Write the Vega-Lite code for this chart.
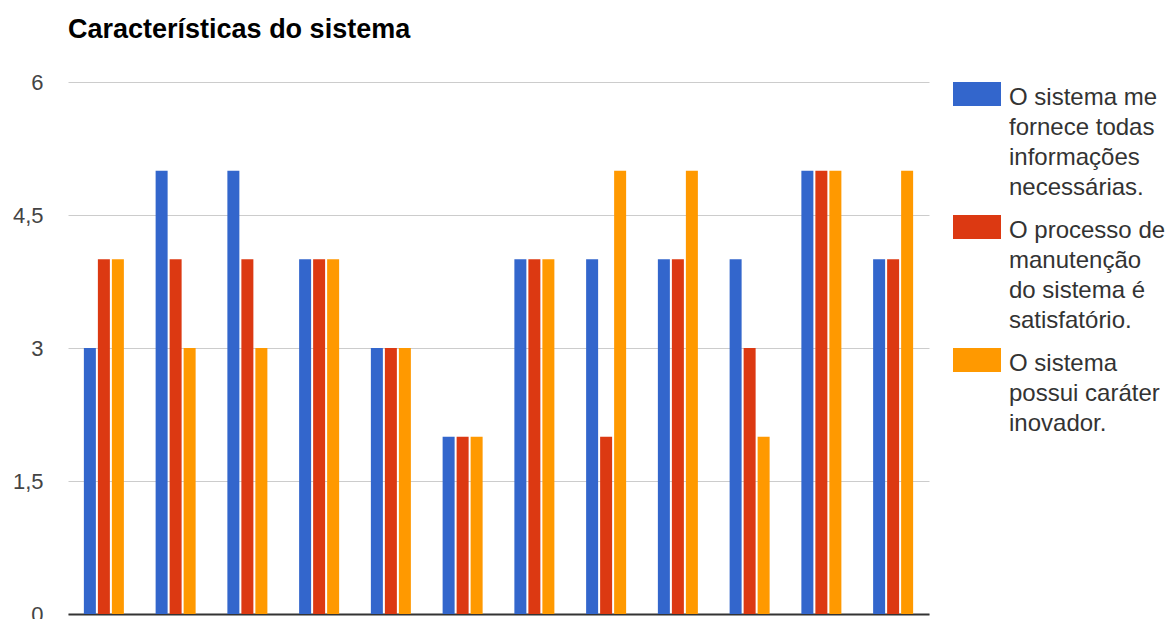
{
  "$schema": "https://vega.github.io/schema/vega-lite/v6.json",
  "width": 861,
  "height": 532,
  "autosize": {"type": "none"},
  "padding": {"left": 68, "top": 82, "right": 244, "bottom": 5},
  "background": "white",
  "title": {
    "text": "Características do sistema",
    "anchor": "start",
    "frame": "group",
    "font": "Liberation Sans",
    "fontSize": 27,
    "fontWeight": "bold",
    "color": "#000000",
    "baseline": "alphabetic",
    "offset": 6
  },
  "data": {
    "values": [
      {"resposta": "1", "serie": "O sistema me fornece todas informações necessárias.", "valor": 3},
      {"resposta": "1", "serie": "O processo de manutenção do sistema é satisfatório.", "valor": 4},
      {"resposta": "1", "serie": "O sistema possui caráter inovador.", "valor": 4},
      {"resposta": "2", "serie": "O sistema me fornece todas informações necessárias.", "valor": 5},
      {"resposta": "2", "serie": "O processo de manutenção do sistema é satisfatório.", "valor": 4},
      {"resposta": "2", "serie": "O sistema possui caráter inovador.", "valor": 3},
      {"resposta": "3", "serie": "O sistema me fornece todas informações necessárias.", "valor": 5},
      {"resposta": "3", "serie": "O processo de manutenção do sistema é satisfatório.", "valor": 4},
      {"resposta": "3", "serie": "O sistema possui caráter inovador.", "valor": 3},
      {"resposta": "4", "serie": "O sistema me fornece todas informações necessárias.", "valor": 4},
      {"resposta": "4", "serie": "O processo de manutenção do sistema é satisfatório.", "valor": 4},
      {"resposta": "4", "serie": "O sistema possui caráter inovador.", "valor": 4},
      {"resposta": "5", "serie": "O sistema me fornece todas informações necessárias.", "valor": 3},
      {"resposta": "5", "serie": "O processo de manutenção do sistema é satisfatório.", "valor": 3},
      {"resposta": "5", "serie": "O sistema possui caráter inovador.", "valor": 3},
      {"resposta": "6", "serie": "O sistema me fornece todas informações necessárias.", "valor": 2},
      {"resposta": "6", "serie": "O processo de manutenção do sistema é satisfatório.", "valor": 2},
      {"resposta": "6", "serie": "O sistema possui caráter inovador.", "valor": 2},
      {"resposta": "7", "serie": "O sistema me fornece todas informações necessárias.", "valor": 4},
      {"resposta": "7", "serie": "O processo de manutenção do sistema é satisfatório.", "valor": 4},
      {"resposta": "7", "serie": "O sistema possui caráter inovador.", "valor": 4},
      {"resposta": "8", "serie": "O sistema me fornece todas informações necessárias.", "valor": 4},
      {"resposta": "8", "serie": "O processo de manutenção do sistema é satisfatório.", "valor": 2},
      {"resposta": "8", "serie": "O sistema possui caráter inovador.", "valor": 5},
      {"resposta": "9", "serie": "O sistema me fornece todas informações necessárias.", "valor": 4},
      {"resposta": "9", "serie": "O processo de manutenção do sistema é satisfatório.", "valor": 4},
      {"resposta": "9", "serie": "O sistema possui caráter inovador.", "valor": 5},
      {"resposta": "10", "serie": "O sistema me fornece todas informações necessárias.", "valor": 4},
      {"resposta": "10", "serie": "O processo de manutenção do sistema é satisfatório.", "valor": 3},
      {"resposta": "10", "serie": "O sistema possui caráter inovador.", "valor": 2},
      {"resposta": "11", "serie": "O sistema me fornece todas informações necessárias.", "valor": 5},
      {"resposta": "11", "serie": "O processo de manutenção do sistema é satisfatório.", "valor": 5},
      {"resposta": "11", "serie": "O sistema possui caráter inovador.", "valor": 5},
      {"resposta": "12", "serie": "O sistema me fornece todas informações necessárias.", "valor": 4},
      {"resposta": "12", "serie": "O processo de manutenção do sistema é satisfatório.", "valor": 4},
      {"resposta": "12", "serie": "O sistema possui caráter inovador.", "valor": 5}
    ]
  },
  "mark": {"type": "bar"},
  "encoding": {
    "x": {
      "field": "resposta",
      "type": "nominal",
      "sort": null,
      "scale": {"paddingInner": 0.4425, "paddingOuter": 0.22125},
      "axis": {
        "title": null,
        "labels": false,
        "ticks": false,
        "grid": false,
        "domain": true,
        "domainColor": "#333333",
        "domainWidth": 2
      }
    },
    "xOffset": {
      "field": "serie",
      "type": "nominal",
      "sort": null,
      "scale": {
        "domain": [
          "O sistema me fornece todas informações necessárias.",
          "O processo de manutenção do sistema é satisfatório.",
          "O sistema possui caráter inovador."
        ],
        "paddingInner": 0.143,
        "paddingOuter": 0
      }
    },
    "y": {
      "field": "valor",
      "type": "quantitative",
      "scale": {"domain": [0, 6], "nice": false},
      "axis": {
        "title": null,
        "values": [0, 1.5, 3, 4.5, 6],
        "labelExpr": "replace(toString(datum.value), '.', ',')",
        "domain": false,
        "ticks": false,
        "grid": true,
        "gridColor": "#cccccc",
        "gridWidth": 1,
        "labelFont": "Liberation Sans",
        "labelFontSize": 22,
        "labelColor": "#444444",
        "labelPadding": 25
      }
    },
    "color": {
      "field": "serie",
      "type": "nominal",
      "scale": {
        "domain": [
          "O sistema me fornece todas informações necessárias.",
          "O processo de manutenção do sistema é satisfatório.",
          "O sistema possui caráter inovador."
        ],
        "range": ["#3366cc", "#dc3912", "#ff9900"]
      },
      "legend": {
        "title": null,
        "orient": "none",
        "legendX": 885,
        "legendY": -1,
        "padding": 0,
        "symbolType": "M-1,-0.958H1V0.042H-1Z",
        "symbolSize": 2304,
        "symbolStrokeWidth": 0,
        "symbolOpacity": 1,
        "labelFont": "Liberation Sans",
        "labelFontSize": 24,
        "labelColor": "#333333",
        "labelBaseline": "alphabetic",
        "labelOffset": 8,
        "labelLimit": 0,
        "rowPadding": 14,
        "labelExpr": "datum.label == 'O sistema me fornece todas informações necessárias.' ? ['O sistema me', 'fornece todas', 'informações', 'necessárias.'] : datum.label == 'O processo de manutenção do sistema é satisfatório.' ? ['O processo de', 'manutenção', 'do sistema é', 'satisfatório.'] : ['O sistema', 'possui caráter', 'inovador.']"
      }
    }
  },
  "config": {
    "view": {"stroke": null},
    "bar": {"stroke": null},
    "style": {"guide-label": {"lineHeight": 30}}
  }
}
